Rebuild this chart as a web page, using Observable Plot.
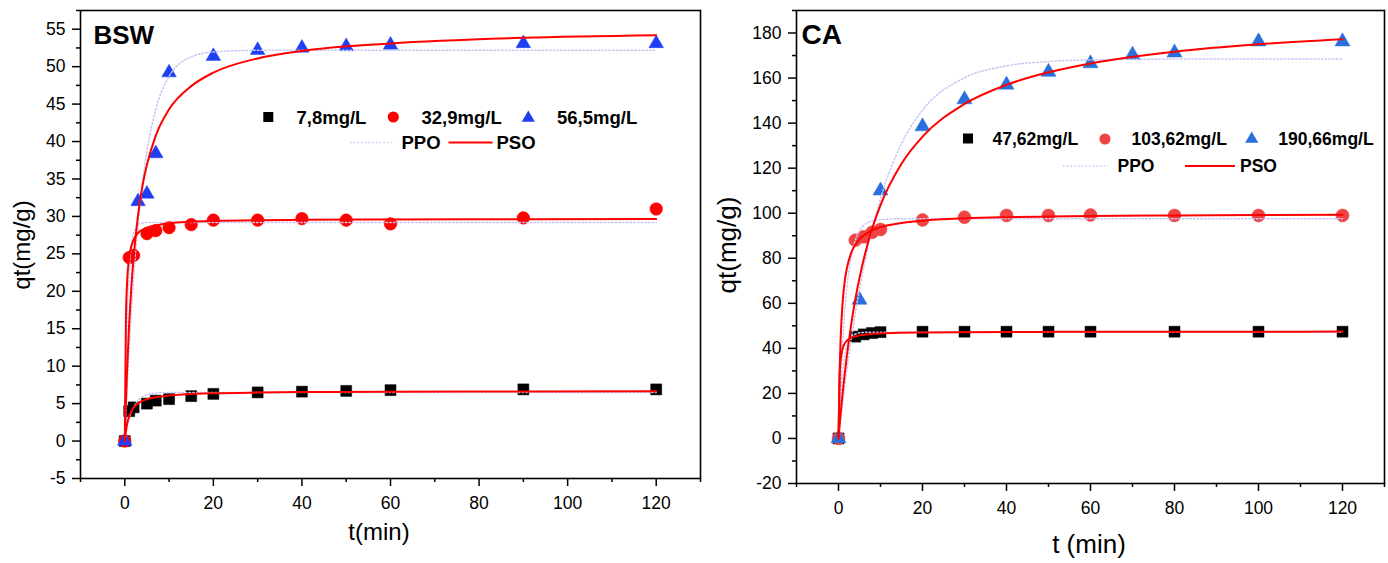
<!DOCTYPE html>
<html><head><meta charset="utf-8">
<script src="https://cdn.jsdelivr.net/npm/d3@7"></script>
<script src="https://cdn.jsdelivr.net/npm/@observablehq/plot@0.6"></script>
<style>
body{margin:0;background:#fff;}
#wrap{position:relative;width:1388px;height:563px;overflow:hidden;background:#fff;font-family:"Liberation Sans",Arial,sans-serif;}
#left,#right{position:absolute;top:0;}
#left{left:0}
#right{left:700px}
#overlay{position:absolute;left:0;top:0;pointer-events:none;font-family:"Liberation Sans",Arial,sans-serif;}
</style></head><body>
<div id="wrap"><div id="left"></div><div id="right"></div><svg id="overlay" width="1388" height="563"></svg></div>
<script>
// ---------- BSW panel data ----------
const bswT_78  = [0,1,2,5,7,10,15,20,30,40,50,60,90,120];
const bswQ_78  = [0,4.0,4.5,5.0,5.4,5.6,6.0,6.3,6.5,6.6,6.7,6.8,6.9,6.9];
const bswT_329 = [0,1,2,5,7,10,15,20,30,40,50,60,90,120];
const bswQ_329 = [0,24.5,24.8,27.7,28.1,28.5,28.9,29.5,29.5,29.7,29.5,29.0,29.8,31.0];
const bswT_565 = [0,3,5,7,10,20,30,40,50,60,90,120];
const bswQ_565 = [0,32.0,33.0,38.4,49.2,51.4,52.2,52.5,52.7,52.9,53.1,53.1];

// fitted curves
const bswPsoT    = [0,0.25,0.5,1,1.5,2,3,4,5,7,10,15,20,30,40,60,90,120];
const bswPso_78  = [0,1.34,2.23,3.35,4.02,4.47,5.03,5.36,5.58,5.86,6.09,6.28,6.38,6.48,6.54,6.59,6.63,6.64];
const bswPso_329 = [0,16.1,20.9,24.55,26.05,26.9,27.8,28.2,28.5,28.8,29.1,29.3,29.4,29.5,29.54,29.6,29.63,29.65];
const bswPso_565 = [0,5.0,9.2,15.8,20.8,24.6,30.2,34.1,36.9,40.8,44.3,47.4,49.2,51.1,52.1,53.1,53.85,54.2];
const bswPpoT    = [0,0.5,1,1.5,2,3,4,5,7,10,15,20,30,60,90,120];
const bswPpo_78  = [0,1.69,2.93,3.86,4.54,5.43,5.91,6.18,6.40,6.48,6.5,6.5,6.5,6.5,6.5,6.5];
const bswPpo_329 = [0,15.4,22.7,26.1,27.75,28.88,29.13,29.18,29.2,29.2,29.2,29.2,29.2,29.2,29.2,29.2];
const bswPpo_565 = [0,6.6,12.4,17.4,21.8,29.0,34.5,38.7,44.3,48.7,51.3,51.96,52.18,52.2,52.2,52.2];

// ---------- CA panel data ----------
const caT_4762   = [0,4,6,8,10,20,30,40,50,60,80,100,120];
const caQ_4762   = [0,45.2,46.2,46.8,47.2,47.4,47.4,47.4,47.4,47.4,47.4,47.4,47.4];
const caT_10362  = [0,4,6,8,10,20,30,40,50,60,80,100,120];
const caQ_10362  = [0,88.0,89.5,91.5,92.8,97.0,98.2,99.0,99.0,99.2,99.0,99.0,99.0];
const caT_19066  = [0,5,10,20,30,40,50,60,70,80,100,120];
const caQ_19066  = [0,61.5,110.0,138.5,150.5,157.0,162.7,166.5,170.3,171.3,176.2,176.2];

const caPsoT      = [0,0.25,0.5,1,1.5,2,3,4,5,7,10,15,20,30,40,50,60,80,100,120];
const caPso_4762  = [0,27.0,34.4,39.9,42.2,43.4,44.7,45.35,45.76,46.24,46.61,46.91,47.05,47.2,47.28,47.32,47.35,47.39,47.41,47.43];
const caPso_10362 = [0,28.0,43.8,60.85,69.95,75.6,82.25,86.0,88.5,91.4,93.8,95.7,96.7,97.7,98.2,98.5,98.75,99.0,99.2,99.3];
const caPso_19066 = [0,5.55,10.8,20.4,29.0,36.8,50.35,61.7,71.3,86.8,103.6,122.0,134.0,148.5,157.0,162.55,166.5,171.7,175.0,177.25];
const caPpoT      = [0,0.5,1,1.5,2,3,4,5,7,10,15,20,30,40,50,60,80,100,120];
const caPpo_4762  = [0,18.56,29.84,36.67,40.81,44.85,46.34,46.88,47.16,47.2,47.2,47.2,47.2,47.2,47.2,47.2,47.2,47.2,47.2];
const caPpo_10362 = [0,24.55,42.9,56.65,66.93,80.39,87.92,92.14,95.82,97.2,97.5,97.5,97.5,97.5,97.5,97.5,97.5,97.5,97.5];
const caPpo_19066 = [0,8.22,16.04,23.47,30.55,43.67,55.55,66.3,84.83,106.5,130.9,145.7,160.1,165.4,167.37,168.08,168.44,168.5,168.5];

// ---------- ticks & labels ----------
const xMajor = [0,20,40,60,80,100,120];
const xMinor = [-10,10,30,50,70,90,110,130];
const bswYMajor = [-5,0,5,10,15,20,25,30,35,40,45,50,55];
const bswYMinor = [-2.5,2.5,7.5,12.5,17.5,22.5,27.5,32.5,37.5,42.5,47.5,52.5,57.5];
const caYMajor  = [-20,0,20,40,60,80,100,120,140,160,180];
const caYMinor  = [-10,10,30,50,70,90,110,130,150,170,190];
const bswLegend = ["7,8mg/L","32,9mg/L","56,5mg/L"];
const caLegend  = ["47,62mg/L","103,62mg/L","190,66mg/L"];
const fitLabels = ["PPO","PSO"];
const titles = ["BSW","CA"];
const yTitle = "qt(mg/g)";
const xTitles = ["t(min)","t (min)"];

const rows = (T, Q) => T.map((t, i) => ({t, q: Q[i]}));
const PPO_COLOR = "#c6c6f4";
const PSO_COLOR = "#ff0000";
const FONT = "'Liberation Sans', Arial, sans-serif";

function panel(o) {
  return Plot.plot({
    width: o.width, height: 563,
    marginLeft: o.ml, marginRight: o.mr, marginTop: 10, marginBottom: o.mb,
    style: {background: "transparent", fontFamily: FONT, fontSize: "17px", color: "black", overflow: "visible"},
    x: {domain: [-10, 130], label: null},
    y: {domain: o.yDomain, label: null},
    marks: [
      Plot.axisX(xMinor, {tickSize: 4, tickFormat: () => "", strokeWidth: 1.5, label: null}),
      Plot.axisX(xMajor, {tickSize: 8, tickPadding: 10, tickFormat: d => String(d), fontSize: 17.5, strokeWidth: 1.5, label: null}),
      Plot.axisY(o.yMinor, {tickSize: 4, tickFormat: () => "", strokeWidth: 1.5, label: null}),
      Plot.axisY(o.yMajor, {tickSize: 8, tickPadding: 7, tickFormat: d => String(d), fontSize: 17.5, strokeWidth: 1.5, label: null}),
      ...o.series.map(s => Plot.dot(s.data, {x: "t", y: "q", symbol: s.symbol, r: s.r, fill: s.color, stroke: s.color, strokeWidth: 0.5})),
      ...o.ppo.map(c => Plot.line(c, {x: "t", y: "q", stroke: PPO_COLOR, strokeWidth: 1.5, strokeDasharray: "1.5,2.2", curve: "monotone-x"})),
      ...o.pso.map(c => Plot.line(c, {x: "t", y: "q", stroke: PSO_COLOR, strokeWidth: 2, curve: "monotone-x"})),
      Plot.frame({stroke: "black", strokeWidth: 1.6})
    ]
  });
}

document.getElementById("left").append(panel({
  width: 702, ml: 80, mr: 2, mb: 85, yDomain: [-5, 57.5],
  yMajor: bswYMajor, yMinor: bswYMinor,
  series: [
    {data: rows(bswT_78, bswQ_78), symbol: "square", r: 6.2, color: "#000000"},
    {data: rows(bswT_329, bswQ_329), symbol: "circle", r: 6.3, color: "#ff0000"},
    {data: rows(bswT_565, bswQ_565), symbol: "triangle", r: 5.4, color: "#1f3ff5"}
  ],
  ppo: [rows(bswPpoT, bswPpo_78), rows(bswPpoT, bswPpo_329), rows(bswPpoT, bswPpo_565)],
  pso: [rows(bswPsoT, bswPso_78), rows(bswPsoT, bswPso_329), rows(bswPsoT, bswPso_565)]
}));

document.getElementById("right").append(panel({
  width: 688, ml: 96, mr: 4, mb: 80, yDomain: [-20, 190],
  yMajor: caYMajor, yMinor: caYMinor,
  series: [
    {data: rows(caT_4762, caQ_4762), symbol: "square", r: 6.2, color: "#000000"},
    {data: rows(caT_10362, caQ_10362), symbol: "circle", r: 6.5, color: "#ee4444"},
    {data: rows(caT_19066, caQ_19066), symbol: "triangle", r: 5.6, color: "#2a6fdb"}
  ],
  ppo: [rows(caPpoT, caPpo_4762), rows(caPpoT, caPpo_10362), rows(caPpoT, caPpo_19066)],
  pso: [rows(caPsoT, caPso_4762), rows(caPsoT, caPso_10362), rows(caPsoT, caPso_19066)]
}));

// ---------- overlay: titles, legends, axis titles ----------
const ov = d3.select("#overlay");
function text(x, y, s, size, bold, anchor, rot) {
  const t = ov.append("text").attr("x", x).attr("y", y).attr("font-size", size)
    .attr("font-weight", bold ? "bold" : "normal").attr("text-anchor", anchor || "start").attr("fill", "#000").text(s);
  if (rot) t.attr("transform", `rotate(-90 ${x} ${y})`);
  return t;
}
function sym(type, size, x, y, color) {
  ov.append("path").attr("d", d3.symbol().type(type).size(size)()).attr("transform", `translate(${x},${y})`).attr("fill", color);
}
function seg(x1, x2, y, color, w, dash) {
  const l = ov.append("line").attr("x1", x1).attr("x2", x2).attr("y1", y).attr("y2", y).attr("stroke", color).attr("stroke-width", w);
  if (dash) l.attr("stroke-dasharray", dash);
}

text(93.5, 43.5, titles[0], 26, true);
text(801.5, 43.5, titles[1], 28, true);

// left legend
const lfs = 18.5, ly1 = 117, ly2 = 142.5;
sym(d3.symbolSquare, 100, 268.3, ly1, "#000");
text(296.5, ly1 + lfs*0.36, bswLegend[0], lfs, true);
sym(d3.symbolCircle, 98, 393.3, ly1, "#ff0000");
text(421.5, ly1 + lfs*0.36, bswLegend[1], lfs, true);
sym(d3.symbolTriangle, 75, 528.3, ly1 + 1, "#1f3ff5");
text(557, ly1 + lfs*0.36, bswLegend[2], lfs, true);
seg(350, 393, ly2, PPO_COLOR, 1.6, "1.5,2.2");
text(401.5, ly2 + lfs*0.36, fitLabels[0], lfs, true);
seg(448.5, 492.5, ly2, PSO_COLOR, 2);
text(496.5, ly2 + lfs*0.36, fitLabels[1], lfs, true);

// right legend
const rfs = 17.5, ry1 = 139, ry2 = 166;
sym(d3.symbolSquare, 100, 968, ry1 - 0.5, "#000");
text(992.5, ry1 + rfs*0.36, caLegend[0], rfs, true);
sym(d3.symbolCircle, 98, 1105, ry1, "#ee4444");
text(1131.5, ry1 + rfs*0.36, caLegend[1], rfs, true);
sym(d3.symbolTriangle, 75, 1251.7, ry1, "#2a6fdb");
text(1278.3, ry1 + rfs*0.36, caLegend[2], rfs, true);
seg(1063, 1108, ry2, PPO_COLOR, 1.6, "1.5,2.2");
text(1117.5, ry2 + rfs*0.36, fitLabels[0], rfs, true);
seg(1185, 1235, ry2, PSO_COLOR, 2);
text(1240, ry2 + rfs*0.36, fitLabels[1], rfs, true);

// axis titles
text(379, 540, xTitles[0], 24, false, "middle");
text(1089, 552.5, xTitles[1], 26, false, "middle");
text(30, 245, yTitle, 24, false, "middle", true);
text(736, 245, yTitle, 26, false, "middle", true);
</script>
</body></html>
